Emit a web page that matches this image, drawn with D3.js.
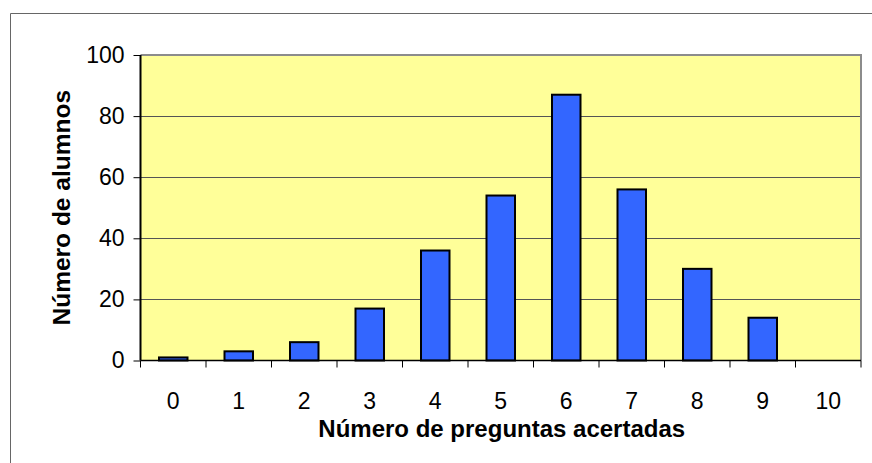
<!DOCTYPE html>
<html><head><meta charset="utf-8">
<script src="https://cdn.jsdelivr.net/npm/d3@7"></script>
<style>body{margin:0;background:#fff}svg{display:block}</style>
</head><body>
<svg id="c" width="872" height="463"></svg>
<script>
const categories = ["0","1","2","3","4","5","6","7","8","9","10"];
const values = [1,3,6,17,36,54,87,56,30,14,0];
const yTicks = [0,20,40,60,80,100];
const xTitle = "Número de preguntas acertadas";
const yTitle = "Número de alumnos";

const svg = d3.select("#c");
const L=140.5, R=861, T=55, B=360.5;
const x = d3.scaleBand().domain(categories).range([L,R]).paddingInner(0.565).paddingOuter(0.2825);
const xb = d3.scaleBand().domain(categories).range([L,R]);
const y = d3.scaleLinear().domain([0,100]).range([B,T]);
const font = "Liberation Sans, Arial, sans-serif";

// outer border
svg.append("path").attr("d","M10.5,463 V13.5 H872").attr("fill","none").attr("stroke","#666").attr("stroke-width",1);

// plot area
svg.append("rect").attr("x",L).attr("y",T).attr("width",R-L).attr("height",B-T).attr("fill","#FFFF99");
// gridlines
svg.append("g").selectAll("line").data(yTicks.filter(d=>d>0 && d<100)).join("line")
  .attr("x1",L).attr("x2",R).attr("y1",d=>Math.round(y(d))+0.5).attr("y2",d=>Math.round(y(d))+0.5)
  .attr("stroke","#555").attr("stroke-width",1);
// top & right gray border
svg.append("path").attr("d",`M${L},${T} H${R} V${B}`).attr("fill","none").attr("stroke","#8c8c8c").attr("stroke-width",2);

// bars
svg.append("g").selectAll("rect").data(values).join("rect")
  .attr("x",(d,i)=>x(categories[i]))
  .attr("width",x.bandwidth())
  .attr("y",d=>y(d))
  .attr("height",d=>B-y(d))
  .attr("fill","#3366FF").attr("stroke","#000").attr("stroke-width",2);

// y axis
const ya = svg.append("g").attr("transform",`translate(${L},0)`)
  .call(d3.axisLeft(y).tickValues(yTicks).tickSize(7).tickPadding(9));
ya.attr("font-size",null).attr("font-family",null);
ya.select(".domain").attr("stroke","#000").attr("stroke-width",2).attr("d",`M0,${T}V${B}`);
ya.selectAll(".tick line").attr("stroke","#000");
ya.selectAll("text").style("font-family",font).style("font-size","23px").attr("fill","#000");

// x axis
const xa = svg.append("g").attr("transform",`translate(0,${B})`);
xa.append("line").attr("x1",L).attr("x2",R).attr("y1",0).attr("y2",0).attr("stroke","#000").attr("stroke-width",1.5);
xa.selectAll("line.t").data(categories.concat(["end"])).join("line").attr("class","t")
  .attr("x1",(d,i)=>i<categories.length? xb(d):R).attr("x2",(d,i)=>i<categories.length? xb(d):R)
  .attr("y1",0).attr("y2",7).attr("stroke","#000");
xa.selectAll("text").data(categories).join("text")
  .attr("x",d=>xb(d)+xb.bandwidth()/2).attr("y",48)
  .attr("text-anchor","middle").style("font-family",font).style("font-size","23px").text(d=>d);

// titles
svg.append("text").attr("x",(L+R)/2+1).attr("y",437).attr("text-anchor","middle")
  .style("font-family",font).style("font-size","24px").attr("font-weight","bold").text(xTitle);
svg.append("text").attr("transform",`translate(70,${(T+B)/2}) rotate(-90)`).attr("text-anchor","middle")
  .style("font-family",font).style("font-size","24.5px").attr("font-weight","bold").text(yTitle);
</script>
</body></html>
